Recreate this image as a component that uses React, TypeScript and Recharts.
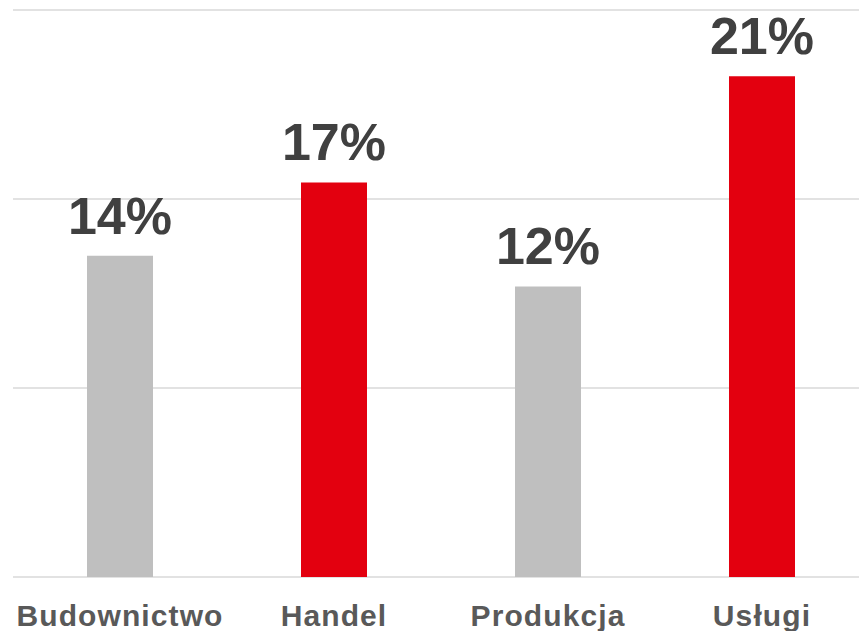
import { BarChart, Bar, XAxis, YAxis, CartesianGrid, LabelList, Cell } from "recharts";

const categories = ["Budownictwo", "Handel", "Produkcja", "Usługi"];
const shares = [0.136, 0.167, 0.123, 0.212];
const barColors = ["#bfbfbf", "#e3000f", "#bfbfbf", "#e3000f"];
const yTicks = [0, 0.08, 0.16, 0.24];

const data = categories.map((name, i) => ({ name, value: shares[i] }));

const font = "'Liberation Sans', Arial, sans-serif";

function CategoryTick(props: any) {
  const { x, y, payload } = props;
  return (
    <text
      x={x}
      y={y}
      dy={41}
      textAnchor="middle"
      fill="#595959"
      fontFamily={font}
      fontWeight="bold"
      fontSize={30}
      style={{ letterSpacing: "1.1px" }}
    >
      {payload.value}
    </text>
  );
}

export default function App() {
  return (
    <div
      style={{
        position: "fixed",
        left: 0,
        top: 0,
        width: 859,
        height: 631,
        overflow: "hidden",
        background: "#fff",
      }}
    >
      <BarChart
        width={875}
        height={631}
        data={data}
        margin={{ top: 10, right: 6, bottom: 0, left: 13 }}
      >
        <CartesianGrid vertical={false} stroke="#d9d9d9" strokeWidth={1.5} />
        <XAxis
          dataKey="name"
          axisLine={false}
          tickLine={false}
          height={54}
          tick={<CategoryTick />}
          interval={0}
        />
        <YAxis hide domain={[0, 0.24]} ticks={yTicks} />
        <Bar dataKey="value" barSize={66} isAnimationActive={false}>
          {data.map((d, i) => (
            <Cell key={d.name} fill={barColors[i]} />
          ))}
          <LabelList
            dataKey="value"
            position="top"
            offset={22}
            fill="#404040"
            fontFamily={font}
            fontWeight="bold"
            fontSize={52}
            formatter={(v: any) => `${Math.round(Number(v) * 100)}%`}
          />
        </Bar>
      </BarChart>
    </div>
  );
}
